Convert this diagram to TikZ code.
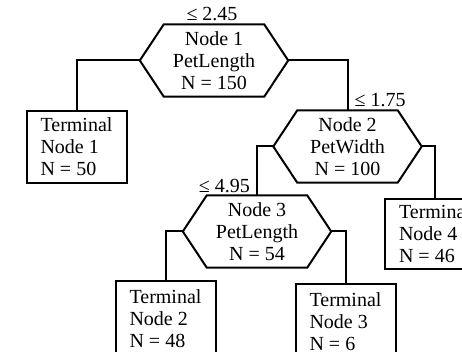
\documentclass[tikz,border=0pt]{standalone}
\usepackage{fontspec}
\setmainfont{Liberation Serif}
\begin{document}
\begin{tikzpicture}[x=1pt,y=-1pt,
  txt/.style={font=\fontsize{20}{22}\selectfont},
  conn/.style={line width=2pt},
  termbox/.style={txt, draw, line width=2pt, minimum width=100pt, minimum height=72pt, align=left, inner sep=0pt, anchor=north},
  hexbox/.style={txt, minimum width=100pt, minimum height=72pt, align=center, inner sep=0pt},
  hexline/.style={line width=2pt, line join=miter},
  cond/.style={txt, inner sep=0pt}
]
\useasboundingbox (0,0) rectangle (462,352);
\clip (0,0) rectangle (462,352);

% decision nodes
\node[hexbox] (n1) at (214,60.5) {Node 1\\PetLength\\N = 150};
\node[hexbox] (n2) at (347.5,146.5) {Node 2\\PetWidth\\N = 100};
\node[hexbox] (n3) at (257,231.5) {Node 3\\PetLength\\N = 54};
\foreach \n in {n1,n2,n3}{
  \coordinate (\n l) at ([xshift=-24pt]\n.west);
  \coordinate (\n r) at ([xshift=24pt]\n.east);
  \draw[hexline] (\n.north west) -- (\n.north east) -- (\n r) -- (\n.south east) -- (\n.south west) -- (\n l) -- cycle;
}

% terminal nodes
\node[termbox] (t1) at (76.5,110) {Terminal\\Node 1\\N = 50};
\node[termbox, minimum height=70pt] (t4) at (435,198) {Terminal\\Node 4\\N = 46};
\node[termbox, minimum height=75pt] (t2) at (165.5,280) {Terminal\\Node 2\\N = 48};
\node[termbox, minimum height=75pt] (t3) at (345.5,283) {Terminal\\Node 3\\N = 6};

% connectors
\draw[conn] (n1l) -| (t1.north);
\draw[conn] (n1r) -| (n2.north);
\draw[conn] (n2l) -| (n3.north);
\draw[conn] (n2r) -| (t4.north);
\draw[conn] (n3l) -| (t2.north);
\draw[conn] (n3r) -| (t3.north);

% split labels
\node[cond, anchor=base] (c1) at ([xshift=-2pt,yshift=4pt]n1.north) {≤ 2.45};
\node[cond, anchor=base west] (c2) at ([xshift=7pt,yshift=4pt]n2.north) {≤ 1.75};
\node[cond, anchor=base east] (c3) at ([xshift=-7pt,yshift=3pt]n3.north) {≤ 4.95};
\end{tikzpicture}
\end{document}
